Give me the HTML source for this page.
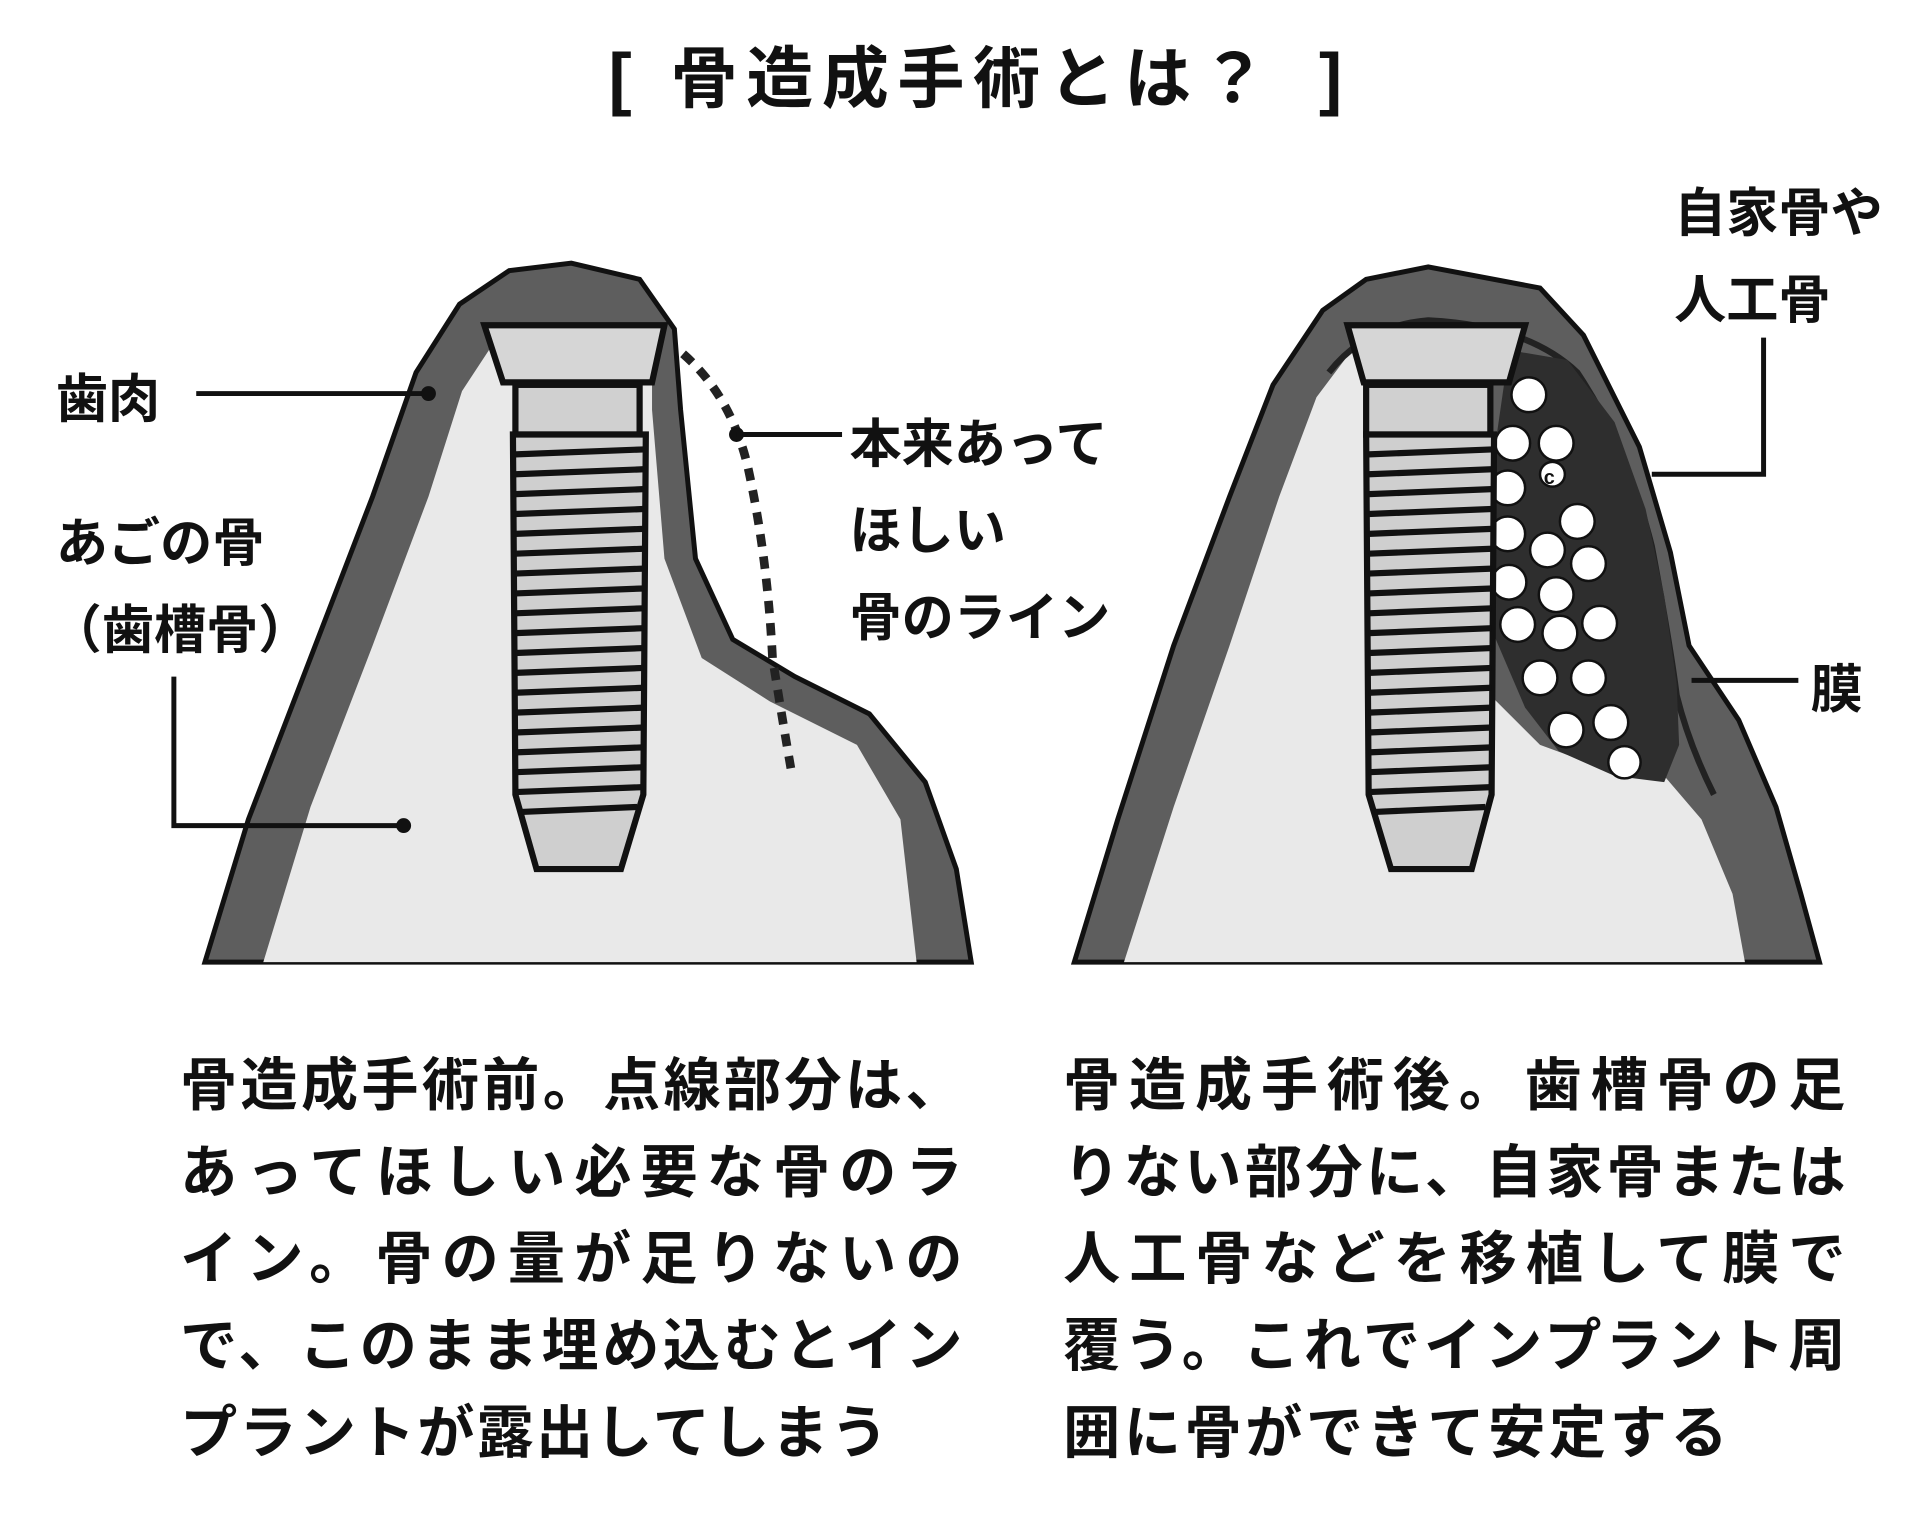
<!DOCTYPE html>
<html><head><meta charset="utf-8"><style>
html,body{margin:0;padding:0;background:#fff;}
svg{display:block;}
text{font-family:"Liberation Sans","Noto Sans CJK JP",sans-serif;fill:#111;}
</style></head><body>
<svg width="1930" height="1532" viewBox="0 0 1554 1234" preserveAspectRatio="none" xmlns="http://www.w3.org/2000/svg">
<rect width="1554" height="1234" fill="#fff"/>
<!-- title -->
<text x="490" y="82" font-size="56" font-weight="bold">[</text>
<text x="540" y="82" font-size="54" font-weight="bold" textLength="480">骨造成手術とは？</text>
<text x="1062" y="82" font-size="56" font-weight="bold">]</text>

<!-- LEFT DIAGRAM -->
<path d="M165,775 L200,660 L250,530 L300,400 L335,300 L370,245 L410,218 L460,212 L515,225 L543,265 L548,330 L560,450 L590,515 L640,545 L700,575 L745,630 L770,700 L782,775 Z" fill="#5e5e5e" stroke="#111" stroke-width="4"/>
<path d="M212,775 L250,650 L300,520 L345,400 L372,315 L395,280 L525,285 L525,330 L535,450 L565,530 L620,565 L690,600 L725,660 L738,775 Z" fill="#e9e9e9"/>
<path d="M390,262 L535,262 L525,308 L405,308 Z" fill="#d6d6d6" stroke="#111" stroke-width="5"/>
<rect x="415" y="310" width="100" height="40" fill="#d0d0d0" stroke="#111" stroke-width="5"/>
<path d="M413,350 L520,350 L518,640 L500,700 L432,700 L415,640 Z" fill="#cfcfcf" stroke="#111" stroke-width="5"/>
<g stroke="#111" stroke-width="5">
<line x1="415" y1="366" x2="518" y2="362"/><line x1="415" y1="382" x2="518" y2="378"/><line x1="415" y1="398" x2="518" y2="394"/><line x1="415" y1="414" x2="518" y2="410"/><line x1="415" y1="430" x2="518" y2="426"/><line x1="415" y1="446" x2="518" y2="442"/><line x1="415" y1="462" x2="518" y2="458"/><line x1="415" y1="478" x2="518" y2="474"/><line x1="415" y1="494" x2="518" y2="490"/><line x1="415" y1="510" x2="518" y2="506"/><line x1="415" y1="526" x2="518" y2="522"/><line x1="415" y1="542" x2="518" y2="538"/><line x1="415" y1="558" x2="518" y2="554"/><line x1="415" y1="574" x2="518" y2="570"/><line x1="415" y1="590" x2="518" y2="586"/><line x1="415" y1="606" x2="518" y2="602"/><line x1="415" y1="622" x2="518" y2="618"/><line x1="415" y1="638" x2="518" y2="634"/><line x1="420" y1="654" x2="513" y2="650"/>
</g>
<path d="M550,285 Q590,320 603,380 Q618,450 622,530 Q630,580 637,620" fill="none" stroke="#222" stroke-width="7" stroke-dasharray="10 8"/>
<circle cx="593" cy="350" r="6" fill="#111"/>
<line x1="593" y1="350" x2="678" y2="350" stroke="#111" stroke-width="4"/>
<g font-weight="bold">
<text x="684" y="372" font-size="42">本来あって</text>
<text x="684" y="442" font-size="42">ほしい</text>
<text x="684" y="512" font-size="42">骨のライン</text>
<text x="45" y="336" font-size="42">歯肉</text>
<text x="45" y="452" font-size="42">あごの骨</text>
<text x="40" y="522" font-size="42">（歯槽骨）</text>
<text x="1348" y="186" font-size="42">自家骨や</text>
<text x="1348" y="256" font-size="42">人工骨</text>
<text x="1458" y="570" font-size="42">膜</text>
</g>
<line x1="158" y1="317" x2="345" y2="317" stroke="#111" stroke-width="4"/>
<circle cx="345" cy="317" r="6" fill="#111"/>
<polyline points="140,545 140,665 325,665" fill="none" stroke="#111" stroke-width="4"/>
<circle cx="325" cy="665" r="6" fill="#111"/>

<!-- RIGHT DIAGRAM -->
<path d="M865,775 L900,660 L945,520 L990,400 L1025,310 L1065,250 L1100,225 L1150,215 L1240,232 L1275,270 L1320,360 L1345,445 L1360,520 L1400,580 L1430,650 L1450,720 L1465,775 Z" fill="#5e5e5e" stroke="#111" stroke-width="4"/>
<path d="M905,775 L945,650 L990,520 L1030,400 L1060,320 L1090,280 L1200,280 L1200,560 L1240,600 L1300,622 L1340,625 L1370,660 L1395,720 L1405,775 Z" fill="#e9e9e9"/>
<path d="M1070,300 Q1100,262 1150,258 Q1230,262 1270,300 Q1310,360 1330,440 Q1345,520 1350,560 Q1360,600 1380,640" fill="none" stroke="#222" stroke-width="5"/>
<path d="M1215,282 L1262,290 L1300,340 L1325,410 L1340,480 L1350,550 L1352,600 L1340,630 L1300,625 L1255,605 L1228,570 L1198,500 L1198,400 Z" fill="#2e2e2e"/>
<g fill="#fff" stroke="#111" stroke-width="2">
<circle cx="1231" cy="318" r="14"/><circle cx="1218" cy="357" r="14"/><circle cx="1253" cy="357" r="14"/><circle cx="1214" cy="393" r="14"/><circle cx="1270" cy="420" r="14"/><circle cx="1214" cy="430" r="14"/><circle cx="1246" cy="443" r="14"/><circle cx="1279" cy="454" r="14"/><circle cx="1215" cy="469" r="14"/><circle cx="1253" cy="479" r="14"/><circle cx="1222" cy="503" r="14"/><circle cx="1256" cy="510" r="14"/><circle cx="1288" cy="502" r="14"/><circle cx="1240" cy="546" r="14"/><circle cx="1279" cy="546" r="14"/><circle cx="1261" cy="588" r="14"/><circle cx="1297" cy="582" r="14"/><circle cx="1308" cy="614" r="13"/>
<circle cx="1250" cy="382" r="10"/>
</g>
<text x="1243" y="390" font-size="16" font-weight="bold">c</text>
<path d="M1085,262 L1228,262 L1215,308 L1098,308 Z" fill="#d6d6d6" stroke="#111" stroke-width="5"/>
<rect x="1100" y="310" width="100" height="40" fill="#d0d0d0" stroke="#111" stroke-width="5"/>
<path d="M1100,350 L1203,350 L1201,640 L1185,700 L1120,700 L1102,640 Z" fill="#cfcfcf" stroke="#111" stroke-width="5"/>
<g stroke="#111" stroke-width="5">
<line x1="1102" y1="366" x2="1201" y2="362"/><line x1="1102" y1="382" x2="1201" y2="378"/><line x1="1102" y1="398" x2="1201" y2="394"/><line x1="1102" y1="414" x2="1201" y2="410"/><line x1="1102" y1="430" x2="1201" y2="426"/><line x1="1102" y1="446" x2="1201" y2="442"/><line x1="1102" y1="462" x2="1201" y2="458"/><line x1="1102" y1="478" x2="1201" y2="474"/><line x1="1102" y1="494" x2="1201" y2="490"/><line x1="1102" y1="510" x2="1201" y2="506"/><line x1="1102" y1="526" x2="1201" y2="522"/><line x1="1102" y1="542" x2="1201" y2="538"/><line x1="1102" y1="558" x2="1201" y2="554"/><line x1="1102" y1="574" x2="1201" y2="570"/><line x1="1102" y1="590" x2="1201" y2="586"/><line x1="1102" y1="606" x2="1201" y2="602"/><line x1="1102" y1="622" x2="1201" y2="618"/><line x1="1102" y1="638" x2="1201" y2="634"/><line x1="1107" y1="654" x2="1196" y2="650"/>
</g>
<polyline points="1420,272 1420,382 1330,382" fill="none" stroke="#111" stroke-width="4"/>
<line x1="1362" y1="548" x2="1448" y2="548" stroke="#111" stroke-width="4"/>

<g font-size="46" font-weight="bold">
<text x="145" y="890" textLength="630">骨造成手術前。点線部分は、</text>
<text x="145" y="960" textLength="630">あってほしい必要な骨のラ</text>
<text x="145" y="1030" textLength="630">イン。骨の量が足りないの</text>
<text x="145" y="1100" textLength="630">で、このまま埋め込むとイン</text>
<text x="145" y="1170" textLength="570">プラントが露出してしまう</text>
<text x="856" y="890" textLength="630">骨造成手術後。歯槽骨の足</text>
<text x="856" y="960" textLength="630">りない部分に、自家骨または</text>
<text x="856" y="1030" textLength="630">人工骨などを移植して膜で</text>
<text x="856" y="1100" textLength="630">覆う。これでインプラント周</text>
<text x="856" y="1170" textLength="535">囲に骨ができて安定する</text>
</g>
</svg>
</body></html>
